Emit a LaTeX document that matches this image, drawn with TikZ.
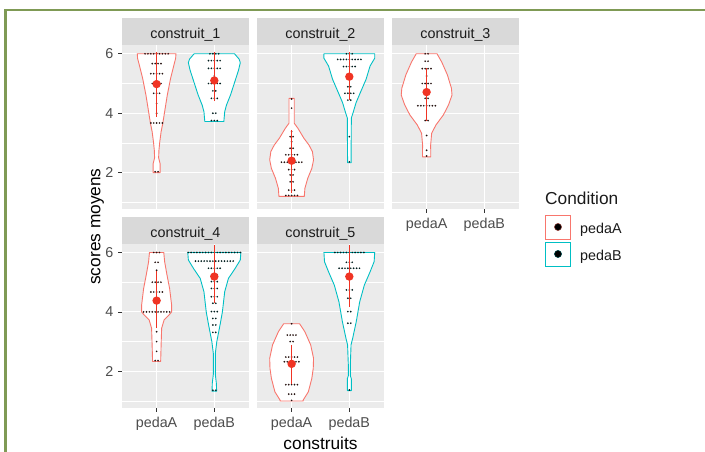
\documentclass[tikz,border=0pt]{standalone}
\usepackage{fontspec}
\setmainfont{Liberation Sans}
\definecolor{colA}{RGB}{248,118,109}
\definecolor{colB}{RGB}{0,191,196}
\definecolor{meanred}{RGB}{240,52,36}
\definecolor{panelbg}{RGB}{235,235,235}
\definecolor{stripbg}{RGB}{217,217,217}
\definecolor{framegreen}{RGB}{127,154,85}
\definecolor{ticktext}{RGB}{77,77,77}
\definecolor{striptext}{RGB}{26,26,26}
\definecolor{tickcol}{RGB}{51,51,51}
\colorlet{dotA}{colA!15!black}
\colorlet{dotB}{colB!15!black}
\newcommand\smallfont{\fontsize{14.3}{16}\selectfont}
\newcommand\bigfont{\fontsize{17.3}{20}\selectfont}
% violin: #1 centre, #2 colour, #3 top, #4 bottom, #5 half outline
\newcommand\violin[5]{%
 \begin{scope}[shift={(#1,0)}]
  \fill[white] plot coordinates {#5};
  \begin{scope}[xscale=-1]\fill[white] plot coordinates {#5};\end{scope}
  \fill[white] (-0.012,#4) rectangle (0.012,#3);
  \draw[#2, line width=0.9pt, line join=round] plot coordinates {#5};
  \begin{scope}[xscale=-1]\draw[#2, line width=0.9pt, line join=round] plot coordinates {#5};\end{scope}
 \end{scope}}
\newcommand\drows[3]{\foreach \vv/\nn in {#3}{\foreach \i in {1,...,\nn}{\fill[#2] ({#1+(\i-(\nn+1)/2)*0.0503},\vv) circle[radius=0.95pt];}}}
\newcommand\meanbar[4]{%
 \draw[meanred, line width=1.5pt] (#1,#2) -- (#1,#4);
 \fill[meanred] (#1,#3) circle[radius=4.2pt];}
\newcommand\panel[2]{%
 \fill[panelbg] (0.4,0.77) rectangle (2.6,6.28);
 \draw[white, line width=0.5pt] (0.4,1)--(2.6,1) (0.4,3)--(2.6,3) (0.4,5)--(2.6,5);
 \draw[white, line width=1.05pt] (0.4,2)--(2.6,2) (0.4,4)--(2.6,4) (0.4,6)--(2.6,6) (1,0.77)--(1,6.28) (2,0.77)--(2,6.28);
 \fill[stripbg] (0.4,6.28) rectangle (2.6,7.19);
 \node[striptext, font=\smallfont, inner sep=0, anchor=base] (#1) at ([yshift=6.7pt]1.5,6.28) {#2};}
\newcommand\yticks[1]{%
 \foreach \t in {2,4,6}{
  \draw[tickcol, line width=0.75pt] (0.4,\t) -- ++(-4pt,0);
  \node[anchor=east, ticktext, font=\smallfont, inner sep=0] (yl#1\t) at ([xshift=-8.5pt]0.4,\t) {\t};}}
\newcommand\xticks[1]{%
 \draw[tickcol, line width=0.75pt] (1,0.77) -- ++(0,-4pt) (2,0.77) -- ++(0,-4pt);
 \node[anchor=base, ticktext, font=\smallfont, inner sep=0] (xa#1) at ([yshift=-19.8pt]1,0.77) {pedaA};
 \node[anchor=base, ticktext, font=\smallfont, inner sep=0] (xb#1) at ([yshift=-19.8pt]2,0.77) {pedaB};}
\begin{document}
\begin{tikzpicture}[x=1pt,y=1pt]
\useasboundingbox (0,0) rectangle (705,452);
\fill[white] (0,0) rectangle (705,452);
\fill[framegreen] (4,0) rectangle (6.7,443);
\fill[framegreen] (4,440.5) rectangle (705,443);

% ---- construit_1
\begin{scope}[shift={(98.92pt,220pt)}, x=57.7pt, y=29.7pt]
\panel{s1}{construit\_1}
\violin{1}{colA}{6}{2}{(0,6) (0.335,6) (0.33,5.85) (0.30,5.62) (0.243,5.18) (0.185,4.61) (0.139,4.05) (0.107,3.66) (0.078,3.38) (0.055,3.04) (0.04,2.75) (0.035,2.5) (0.06,2.3) (0.06,2) (0,2)}
\violin{2}{colB}{6}{3.72}{(0,6) (0.35,6) (0.43,5.82) (0.45,5.7) (0.42,5.45) (0.375,5.18) (0.28,4.61) (0.21,4.27) (0.18,4.05) (0.165,3.72) (0,3.72)}
\drows{1}{dotA}{6/9, 5.67/4, 5.33/5, 5/4, 4.67/3, 4.33/1, 4/1, 3.67/5, 2.03/2}
\drows{2}{dotB}{6/4, 5.77/5, 5.51/5, 5.25/1, 5/5, 4.75/2, 4.5/3, 4/2, 3.75/3}
\meanbar{1}{3.88}{4.98}{6.05}
\meanbar{2}{4.41}{5.1}{6.05}
\yticks{1}
\end{scope}

% ---- construit_2
\begin{scope}[shift={(233.92pt,220pt)}, x=57.7pt, y=29.7pt]
\panel{s2}{construit\_2}
\violin{1}{colA}{4.5}{1.2}{(0,4.5) (0.046,4.5) (0.046,3.66) (0.11,3.49) (0.215,3.15) (0.30,2.93) (0.36,2.71) (0.38,2.43) (0.35,2.14) (0.28,1.81) (0.23,1.47) (0.22,1.2) (0,1.2)}
\violin{2}{colB}{6}{2.33}{(0,6) (0.44,6) (0.44,5.85) (0.36,5.59) (0.29,5.14) (0.19,4.69) (0.116,4.35) (0.064,4.01) (0.035,3.84) (0.03,2.33) (0,2.33)}
\drows{1}{dotA}{4.48/1, 4.17/1, 3.38/1, 3.21/2, 3.04/1, 2.82/2, 2.6/5, 2.35/8, 2.1/3, 1.92/2, 1.69/2, 1.41/3, 1.23/5}
\drows{2}{dotB}{6/3, 5.81/9, 5.57/5, 5.23/2, 4.89/2, 4.67/4, 4.44/2, 3.21/1, 2.36/1}
\meanbar{1}{1.30}{2.4}{3.43}
\meanbar{2}{4.44}{5.23}{6.07}
\end{scope}

% ---- construit_3
\begin{scope}[shift={(368.92pt,220pt)}, x=57.7pt, y=29.7pt]
\panel{s3}{construit\_3}
\violin{1}{colA}{6}{2.53}{(0,6) (0.18,6) (0.26,5.73) (0.36,5.29) (0.43,4.84) (0.44,4.61) (0.38,4.28) (0.29,3.94) (0.16,3.6) (0.087,3.32) (0.07,2.93) (0.072,2.53) (0,2.53)}
\drows{1}{dotA}{6/2, 5.75/2, 5.5/4, 5.25/1, 5/4, 4.75/1, 4.5/2, 4.25/7, 3.75/2, 3.25/1, 2.75/1, 2.56/1}
\meanbar{1}{3.74}{4.71}{5.51}
\xticks{3}
\end{scope}

% ---- construit_4
\begin{scope}[shift={(98.92pt,21.3pt)}, x=57.7pt, y=29.7pt]
\panel{s4}{construit\_4}
\violin{1}{colA}{6}{2.33}{(0,6) (0.124,6) (0.139,5.69) (0.18,5.24) (0.225,4.79) (0.26,4.23) (0.26,4.0) (0.24,3.95) (0.13,3.73) (0.087,3.45) (0.078,2.89) (0.07,2.33) (0,2.33)}
\violin{2}{colB}{6}{1.33}{(0,6) (0.46,6) (0.45,5.75) (0.36,5.46) (0.245,5.13) (0.18,4.68) (0.14,4.0) (0.10,3.57) (0.043,3.0) (0.017,2.6) (0.017,1.9) (0.035,1.6) (0.04,1.33) (0,1.33)}
\drows{1}{dotA}{6/3, 5.67/2, 5.4/1, 5/4, 4.67/5, 4.4/2, 4/10, 3.33/1, 3/1, 2.67/1, 2.36/2}
\drows{2}{dotB}{6/19, 5.71/14, 5.47/5, 5.24/3, 5.02/3, 4.79/3, 4.51/3, 4.29/2, 4.01/3, 3.78/2, 3.56/2, 3.31/2, 1.36/2}
\meanbar{1}{3.45}{4.38}{5.38}
\meanbar{2}{4.29}{5.19}{6.26}
\yticks{4}
\xticks{4}
\end{scope}

% ---- construit_5
\begin{scope}[shift={(233.92pt,21.3pt)}, x=57.7pt, y=29.7pt]
\panel{s5}{construit\_5}
\violin{1}{colA}{3.6}{1.0}{(0,3.6) (0.139,3.6) (0.23,3.33) (0.33,2.89) (0.38,2.44) (0.375,2.1) (0.35,1.76) (0.29,1.31) (0.2,1.03) (0.2,1.0) (0,1.0)}
\violin{2}{colB}{6}{1.35}{(0,6) (0.44,6) (0.43,5.69) (0.36,5.35) (0.26,4.9) (0.18,4.34) (0.12,3.67) (0.058,3.11) (0.03,2.89) (0.017,2.2) (0.017,1.85) (0.035,1.75) (0.035,1.35) (0,1.35)}
\drows{1}{dotA}{3.6/1, 3.22/4, 3.0/2, 2.48/5, 2.32/6, 1.55/5, 1.23/3, 1.02/1}
\drows{2}{dotB}{6/11, 5.67/3, 5.47/8, 5.2/1, 4.74/3, 4.46/2, 4.01/2, 3.62/2, 1.37/1}
\meanbar{1}{1.57}{2.25}{2.9}
\meanbar{2}{4.18}{5.19}{6.26}
\xticks{5}
\end{scope}

% ---- axis titles
\node[rotate=90, anchor=base, font=\bigfont, inner sep=0] (ytitle) at (100.5,225.5) {scores moyens};
\node[anchor=base, font=\bigfont, inner sep=0] (xtitle) at (320.5,2.5) {construits};

% ---- legend
\node[anchor=base west, font=\bigfont, inner sep=0, striptext] (legtitle) at (545,247.5) {Condition};
\draw[colA, line width=0.9pt, fill=white] (545.5,213) rectangle (570.5,237);
\draw[colB, line width=0.9pt, fill=white] (545.5,185.5) rectangle (570.5,210);
\filldraw[fill=black, draw=colA!60!black, line width=0.5pt] (558,225) circle[radius=3.6pt];
\filldraw[fill=black, draw=colB!40!black, line width=0.5pt] (558,198) circle[radius=3.6pt];
\node[anchor=base west, font=\smallfont, inner sep=0, striptext] (legA) at (580,218.5) {pedaA};
\node[anchor=base west, font=\smallfont, inner sep=0, striptext] (legB) at (580,191.8) {pedaB};
\end{tikzpicture}
\end{document}
